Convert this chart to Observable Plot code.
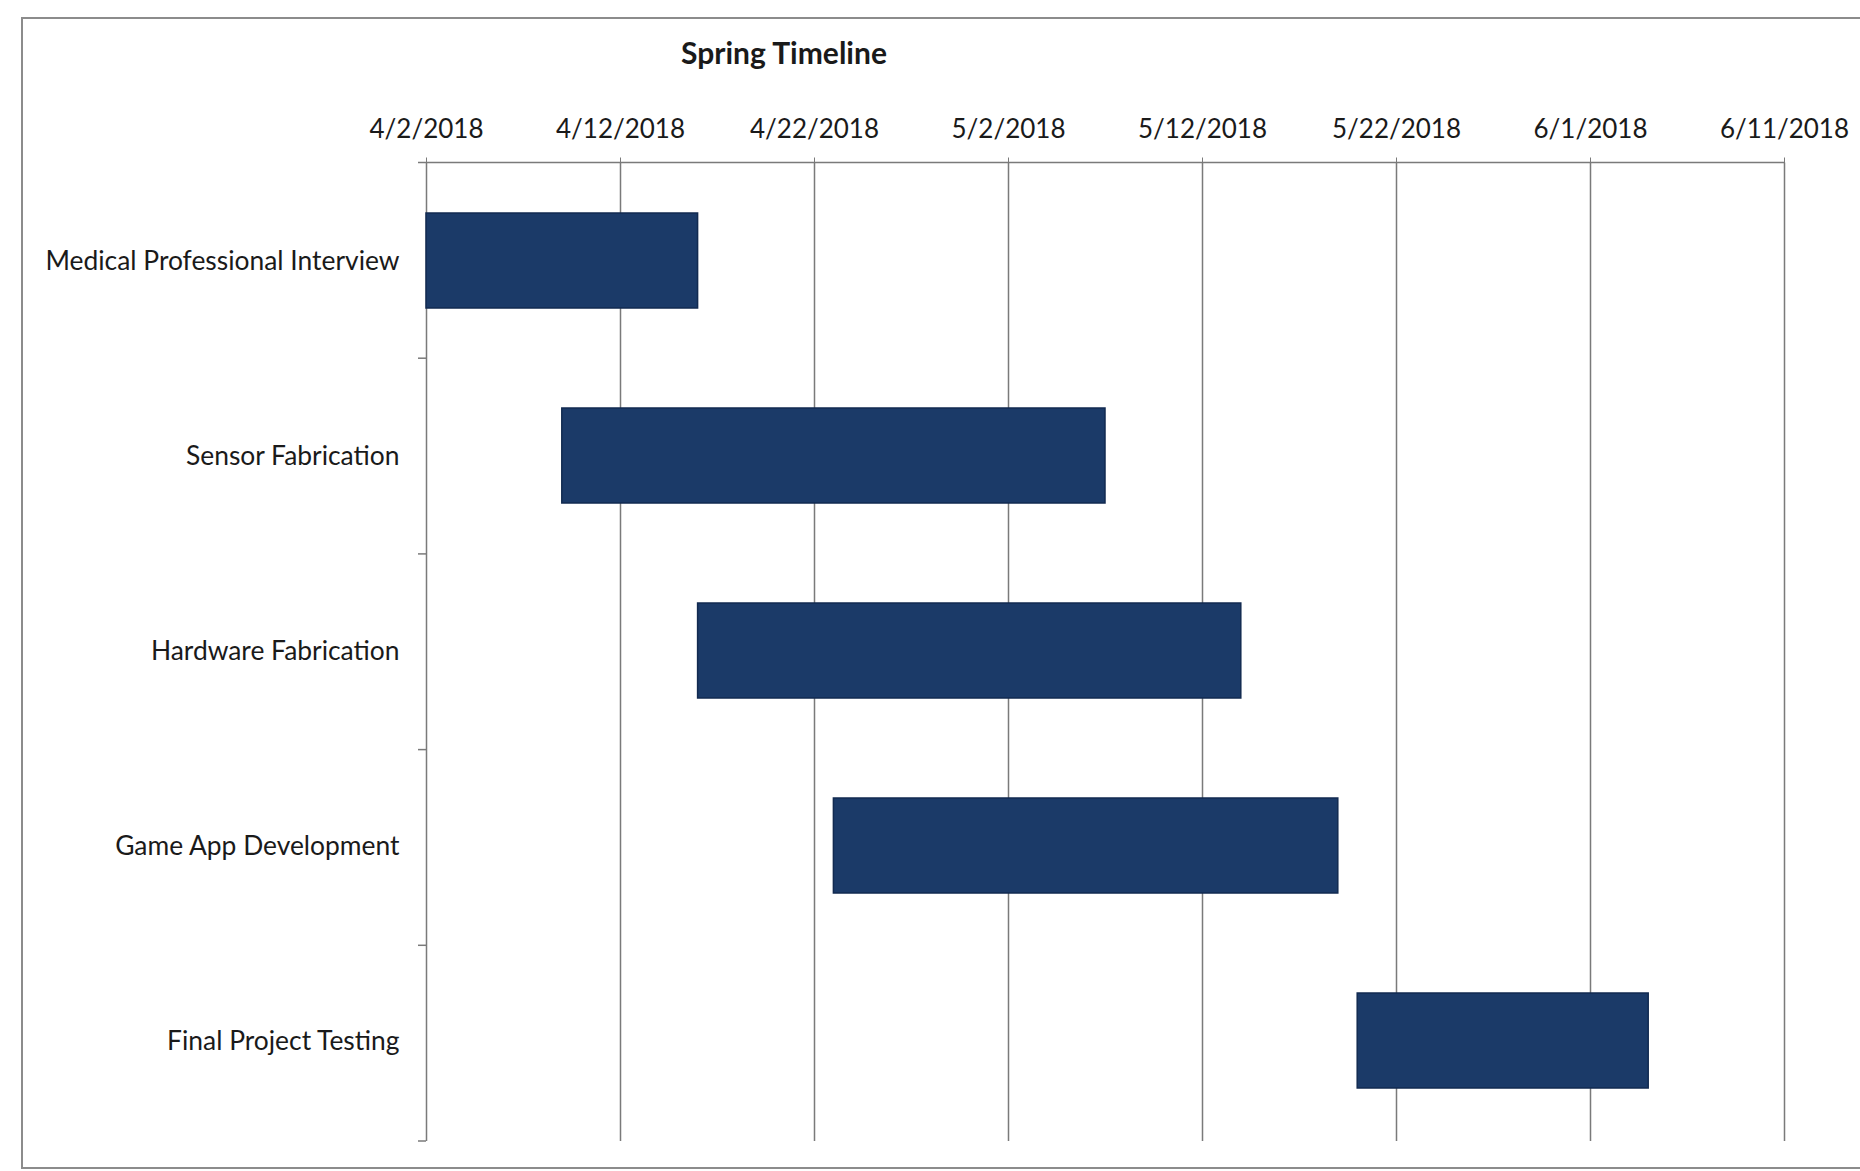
<!DOCTYPE html>
<html>
<head>
<meta charset="utf-8">
<script src="https://cdn.jsdelivr.net/npm/d3@7"></script>
<script src="https://cdn.jsdelivr.net/npm/@observablehq/plot@0.6"></script>
<style>
  html, body { margin: 0; padding: 0; background: #fff; overflow: hidden; }
  #frame { position: absolute; left: 21px; top: 17px; width: 1900px; height: 1152px; border: 2px solid #8c8c8c; box-sizing: border-box; }
  #title { position: absolute; left: 634px; width: 300px; top: 34px; text-align: center;
           font-family: Lato, sans-serif; font-weight: bold; font-size: 30px; color: #1a1a1a; }
  #chart { position: absolute; left: 0; top: 80px; }
</style>
</head>
<body>
<div id="frame"></div>
<div id="title">Spring Timeline</div>
<div id="chart"></div>
<script>
const tasks = ["Medical Professional Interview", "Sensor Fabrication", "Hardware Fabrication", "Game App Development", "Final Project Testing"];
const startDates = ["2018-04-02", "2018-04-09", "2018-04-16", "2018-04-23", "2018-05-20"];
const endDates = ["2018-04-16", "2018-05-07", "2018-05-14", "2018-05-19", "2018-06-04"];
const tickDates = ["2018-04-02", "2018-04-12", "2018-04-22", "2018-05-02", "2018-05-12", "2018-05-22", "2018-06-01", "2018-06-11"];

const parse = d3.timeParse("%Y-%m-%d");
const fmt = d3.timeFormat("%-m/%-d/%Y");
const ticks = tickDates.map(parse);
const data = tasks.map((t, i) => ({task: t, start: parse(startDates[i]), end: parse(endDates[i])}));
const domain = [ticks[0], ticks[ticks.length - 1]];

const W = 1860, H = 1091, MT = 82.5, MB = 30, ML = 426, MR = 76;

const plot = Plot.plot({
  width: W,
  height: H,
  marginTop: MT,
  marginBottom: MB,
  marginLeft: ML,
  marginRight: MR,
  style: {fontFamily: "Lato, sans-serif", fontSize: "26px", color: "#1a1a1a", background: "transparent"},
  x: {type: "time", domain},
  y: {domain: tasks, padding: 0},
  marks: [
    Plot.gridX(ticks, {stroke: "#7a7a7a", strokeOpacity: 1, strokeWidth: 1.5}),
    Plot.barX(data, {y: "task", x1: "start", x2: "end", fill: "#1b3a68", stroke: "#122a50", strokeWidth: 1.5, insetTop: 49, insetBottom: 51}),
    Plot.axisX(ticks, {anchor: "top", tickSize: 6, tickPadding: 19, tickFormat: fmt, label: null, fontSize: 26, stroke: "#7a7a7a"}),
    Plot.axisY({tickSize: 0, tickPadding: 27, label: null, fontSize: 26.4})
  ]
});

// top axis line and category boundary ticks
const xs = plot.scale("x");
const svg = d3.select(plot);
const xa = xs.apply(domain[0]), xb = xs.apply(domain[1]);
const yTop = MT, yBottom = H - MB;
const g = svg.append("g").attr("stroke", "#7a7a7a").attr("stroke-width", 1.5);
g.append("line").attr("x1", xa).attr("x2", xb).attr("y1", yTop).attr("y2", yTop);
const step = (yBottom - yTop) / tasks.length;
for (let k = 0; k <= tasks.length; k++) {
  g.append("line").attr("x1", xa - 8).attr("x2", xa).attr("y1", yTop + k * step).attr("y2", yTop + k * step);
}
document.getElementById("chart").appendChild(plot);
</script>
</body>
</html>
